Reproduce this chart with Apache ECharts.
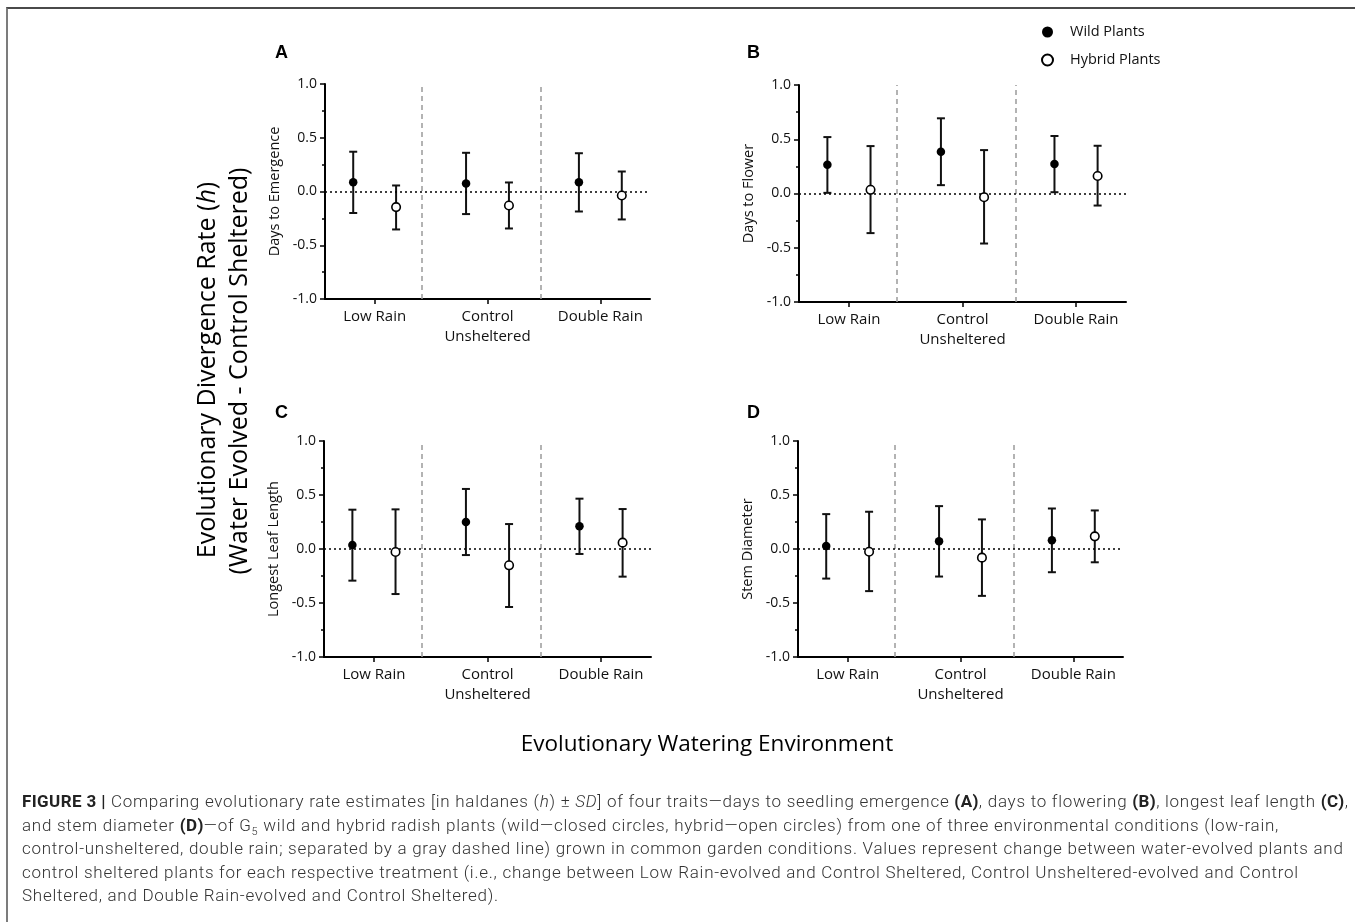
<!DOCTYPE html>
<html>
<head>
<meta charset="utf-8">
<title>Figure 3</title>
<script src="https://cdn.jsdelivr.net/npm/echarts@6.0.0/dist/echarts.min.js"></script>
<style>
  html, body { margin: 0; padding: 0; background: #fff; }
  #frame {
    position: absolute; left: 6px; top: 7px; width: 1349px; height: 915px;
    border-top: 2px solid #4a4a4a; border-left: 2px solid #7c7c7c;
  }
  #main { position: absolute; left: 0; top: 0; width: 1355px; height: 922px; }
  #caption {
    position: absolute; left: 22px; top: 790px;
    font-family: Roboto, 'Liberation Sans', Arial, sans-serif; font-weight: 300;
    font-size: 17px; letter-spacing: 0.73px; line-height: 23.5px; color: #333; white-space: nowrap;
  }
  #caption b { color: #222; font-weight: 700; letter-spacing: 0.4px; }
  #caption sub { font-size: 11px; line-height: 0; }
</style>
</head>
<body>
<div id="frame"></div>
<div id="main"></div>
<div id="caption">
<b>FIGURE 3 |</b> Comparing evolutionary rate estimates [in haldanes (<i>h</i>) ± <i>SD</i>] of four traits—days to seedling emergence <b>(A)</b>, days to flowering <b>(B)</b>, longest leaf length <b>(C)</b>,<br>
and stem diameter <b>(D)</b>—of G<sub>5</sub> wild and hybrid radish plants (wild—closed circles, hybrid—open circles) from one of three environmental conditions (low-rain,<br>
control-unsheltered, double rain; separated by a gray dashed line) grown in common garden conditions. Values represent change between water-evolved plants and<br>
control sheltered plants for each respective treatment (i.e., change between Low Rain-evolved and Control Sheltered, Control Unsheltered-evolved and Control<br>
Sheltered, and Double Rain-evolved and Control Sheltered).
</div>
<script>
// categories along every x axis
var categories = ['Low Rain', 'Control\nUnsheltered', 'Double Rain'];
var traitNames = ['Days to Emergence', 'Days to Flower', 'Longest Leaf Length', 'Stem Diameter'];
var panelLetters = ['A', 'B', 'C', 'D'];
// dashed separators between the watering environments (x units)
var separators = [0.42, 1.47];

// [mean, lower, upper] per category
var emergenceWild   = [[0.087, -0.20, 0.37],  [0.074, -0.21, 0.36],  [0.087, -0.186, 0.356]];
var emergenceHybrid = [[-0.145, -0.353, 0.056], [-0.13, -0.344, 0.084], [-0.037, -0.26, 0.186]];
var flowerWild      = [[0.266, 0.006, 0.52],  [0.384, 0.077, 0.693], [0.272, 0.012, 0.53]];
var flowerHybrid    = [[0.034, -0.365, 0.437], [-0.034, -0.461, 0.40], [0.161, -0.111, 0.44]];
var leafWild        = [[0.037, -0.293, 0.364], [0.25, -0.056, 0.556], [0.21, -0.046, 0.466]];
var leafHybrid      = [[-0.028, -0.417, 0.367], [-0.151, -0.537, 0.231], [0.059, -0.256, 0.37]];
var stemWild        = [[0.028, -0.274, 0.323], [0.071, -0.255, 0.397], [0.08, -0.215, 0.375]];
var stemHybrid      = [[-0.025, -0.39, 0.345], [-0.08, -0.434, 0.274], [0.117, -0.123, 0.357]];

var wildSets = [emergenceWild, flowerWild, leafWild, stemWild];
var hybridSets = [emergenceHybrid, flowerHybrid, leafHybrid, stemHybrid];

var chart = echarts.init(document.getElementById('main'), null, { renderer: 'canvas' });

var FONT = 'Open Sans';
var grids = [
  { left: 325, top: 84, width: 325, height: 215 },
  { left: 799, top: 85, width: 327, height: 217 },
  { left: 324, top: 441, width: 327, height: 216 },
  { left: 798, top: 441, width: 325, height: 216 }
];
var letterPos = [[275, 44], [747, 44], [275, 404], [747, 404]];

var xAxes = [], yAxes = [], series = [];

function errorBars(params, api) {
  var x = api.value(0);
  var top = api.coord([x, api.value(2)]);
  var bot = api.coord([x, api.value(1)]);
  var w = 4;
  var st = { stroke: '#111', lineWidth: 2 };
  return {
    type: 'group',
    children: [
      { type: 'line', shape: { x1: top[0], y1: top[1], x2: bot[0], y2: bot[1] }, style: st },
      { type: 'line', shape: { x1: top[0] - w, y1: top[1], x2: top[0] + w, y2: top[1] }, style: st },
      { type: 'line', shape: { x1: bot[0] - w, y1: bot[1], x2: bot[0] + w, y2: bot[1] }, style: st }
    ]
  };
}

for (var i = 0; i < 4; i++) {
  xAxes.push({
    type: 'value', gridIndex: i, min: -0.44, max: 2.44,
    axisLine: { show: true, onZero: false, lineStyle: { color: '#000', width: 2 } },
    axisTick: { show: true, customValues: [0, 1, 2], length: 5, lineStyle: { color: '#000', width: 1.5 } },
    axisLabel: {
      customValues: [0, 1, 2], margin: 8, fontSize: 15, lineHeight: 20,
      fontFamily: FONT, color: '#111',
      formatter: function (v) { return categories[Math.round(v)]; }
    },
    splitLine: { show: false }
  });
  yAxes.push({
    type: 'value', gridIndex: i, min: -1, max: 1, interval: 0.5,
    name: traitNames[i], nameLocation: 'middle', nameGap: 43, nameRotate: 90,
    nameTextStyle: { fontSize: 14.5, fontFamily: FONT, color: '#111' },
    axisLine: { show: true, onZero: false, lineStyle: { color: '#000', width: 2 } },
    axisTick: { show: true, length: 5, lineStyle: { color: '#000', width: 1.5 } },
    minorTick: { show: true, splitNumber: 2, length: 3, lineStyle: { color: '#000', width: 1.5 } },
    axisLabel: {
      margin: 8, fontSize: 14, fontFamily: FONT, color: '#111',
      formatter: function (v) { return v.toFixed(1); }
    },
    splitLine: { show: false }
  });

  var wild = wildSets[i], hyb = hybridSets[i];
  var wildPts = [], hybPts = [], wildErr = [], hybErr = [];
  for (var c = 0; c < categories.length; c++) {
    wildPts.push([c - 0.19, wild[c][0]]);
    hybPts.push([c + 0.19, hyb[c][0]]);
    wildErr.push([c - 0.19, wild[c][1], wild[c][2]]);
    hybErr.push([c + 0.19, hyb[c][1], hyb[c][2]]);
  }

  series.push({
    type: 'custom', name: 'err' + i, xAxisIndex: i, yAxisIndex: i, z: 3,
    renderItem: errorBars, encode: { x: 0, y: [1, 2] }, data: wildErr.concat(hybErr),
    markLine: {
      silent: true, symbol: 'none', label: { show: false },
      data: [
        { xAxis: separators[0], lineStyle: { color: '#9a9a9a', type: [5, 4], width: 1.5 } },
        { xAxis: separators[1], lineStyle: { color: '#9a9a9a', type: [5, 4], width: 1.5 } },
        { yAxis: 0, lineStyle: { color: '#000', type: [2, 3], width: 1.5 } }
      ]
    }
  });
  series.push({
    type: 'scatter', name: 'Wild Plants', xAxisIndex: i, yAxisIndex: i, z: 5,
    symbol: 'circle', symbolSize: 8.5,
    itemStyle: { color: '#000', borderColor: '#000', borderWidth: 0, opacity: 1 },
    data: wildPts
  });
  series.push({
    type: 'scatter', name: 'Hybrid Plants', xAxisIndex: i, yAxisIndex: i, z: 5,
    symbol: 'circle', symbolSize: 8.5,
    itemStyle: { color: '#fff', borderColor: '#000', borderWidth: 1.6, opacity: 1 },
    data: hybPts
  });
}

var graphics = [];
for (var k = 0; k < 4; k++) {
  graphics.push({
    type: 'text', left: letterPos[k][0], top: letterPos[k][1],
    style: { text: panelLetters[k], font: 'bold 18px "Liberation Sans", Arial', fill: '#000' }
  });
}
graphics.push({
  type: 'text', x: 208, y: 370, rotation: Math.PI / 2,
  style: {
    text: 'Evolutionary Divergence Rate ({i|h})', align: 'center', verticalAlign: 'middle',
    font: '25px "Open Sans"', fill: '#000',
    rich: { i: { fontStyle: 'italic', fontSize: 25, fontFamily: FONT, fill: '#000' } }
  }
});
graphics.push({
  type: 'text', x: 240, y: 371, rotation: Math.PI / 2,
  style: {
    text: '(Water Evolved - Control Sheltered)', align: 'center', verticalAlign: 'middle',
    font: '25px "Open Sans"', fill: '#000'
  }
});
graphics.push({
  type: 'text', x: 707, y: 745,
  style: {
    text: 'Evolutionary Watering Environment', align: 'center', verticalAlign: 'middle',
    font: '22.5px "Open Sans"', fill: '#000'
  }
});

chart.setOption({
  animation: false,
  backgroundColor: 'transparent',
  grid: grids,
  xAxis: xAxes,
  yAxis: yAxes,
  legend: {
    orient: 'vertical', left: 1036, top: 19.5,
    itemWidth: 11, itemHeight: 11, itemGap: 13,
    data: ['Wild Plants', 'Hybrid Plants'],
    textStyle: { fontSize: 14.5, fontFamily: FONT, color: '#111', padding: [0, 0, 0, 12] }
  },
  graphic: graphics,
  series: series
});
</script>
</body>
</html>
